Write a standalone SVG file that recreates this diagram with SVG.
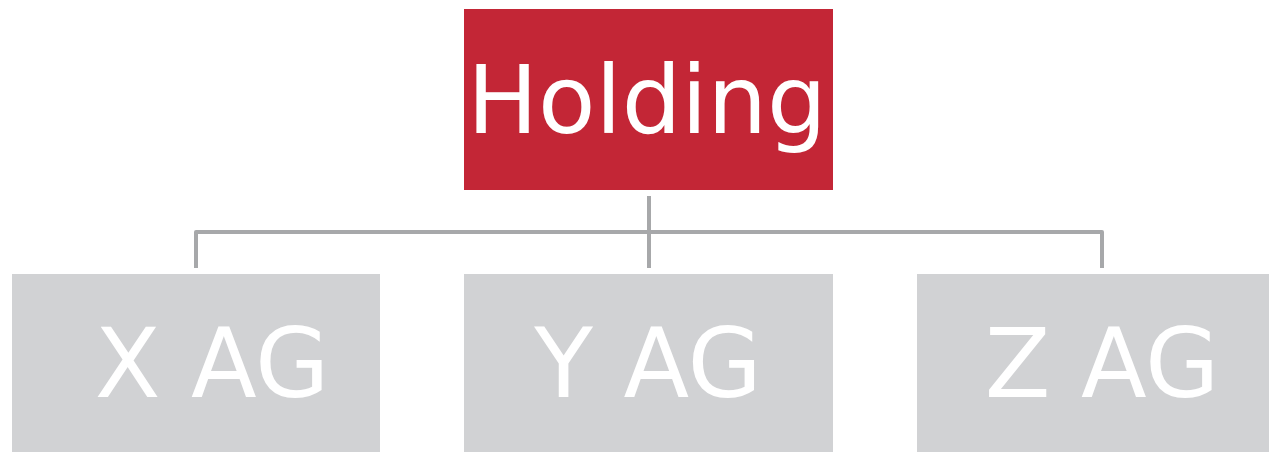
<svg xmlns="http://www.w3.org/2000/svg" width="1269" height="452" viewBox="0 0 1269 452">
<style>
.t{font-family:"DejaVu Sans","Verdana",sans-serif;font-size:96px;fill:#ffffff;text-anchor:middle}
.g{fill:#d1d2d4}
.c{fill:none;stroke:#a7a8aa;stroke-width:4;stroke-linejoin:round}
</style>
<rect width="1269" height="452" fill="#ffffff"/>
<g id="connectors">
<path class="c" d="M649 196 V268"/>
<path class="c" d="M196 268 V232 H1102 V268"/>
</g>
<g id="holding">
<rect x="464" y="9" width="369" height="181" fill="#c32636"/>
<text class="t" x="647" y="133" style="font-size:94px">Holding</text>
</g>
<g id="x-ag">
<rect class="g" x="12" y="274" width="368" height="178"/>
<text class="t" x="212" y="397">X AG</text>
</g>
<g id="y-ag">
<rect class="g" x="464" y="274" width="369" height="178"/>
<text class="t" x="648" y="397">Y AG</text>
</g>
<g id="z-ag">
<rect class="g" x="917" y="274" width="352" height="178"/>
<text class="t" x="1102" y="397">Z AG</text>
</g>
</svg>
